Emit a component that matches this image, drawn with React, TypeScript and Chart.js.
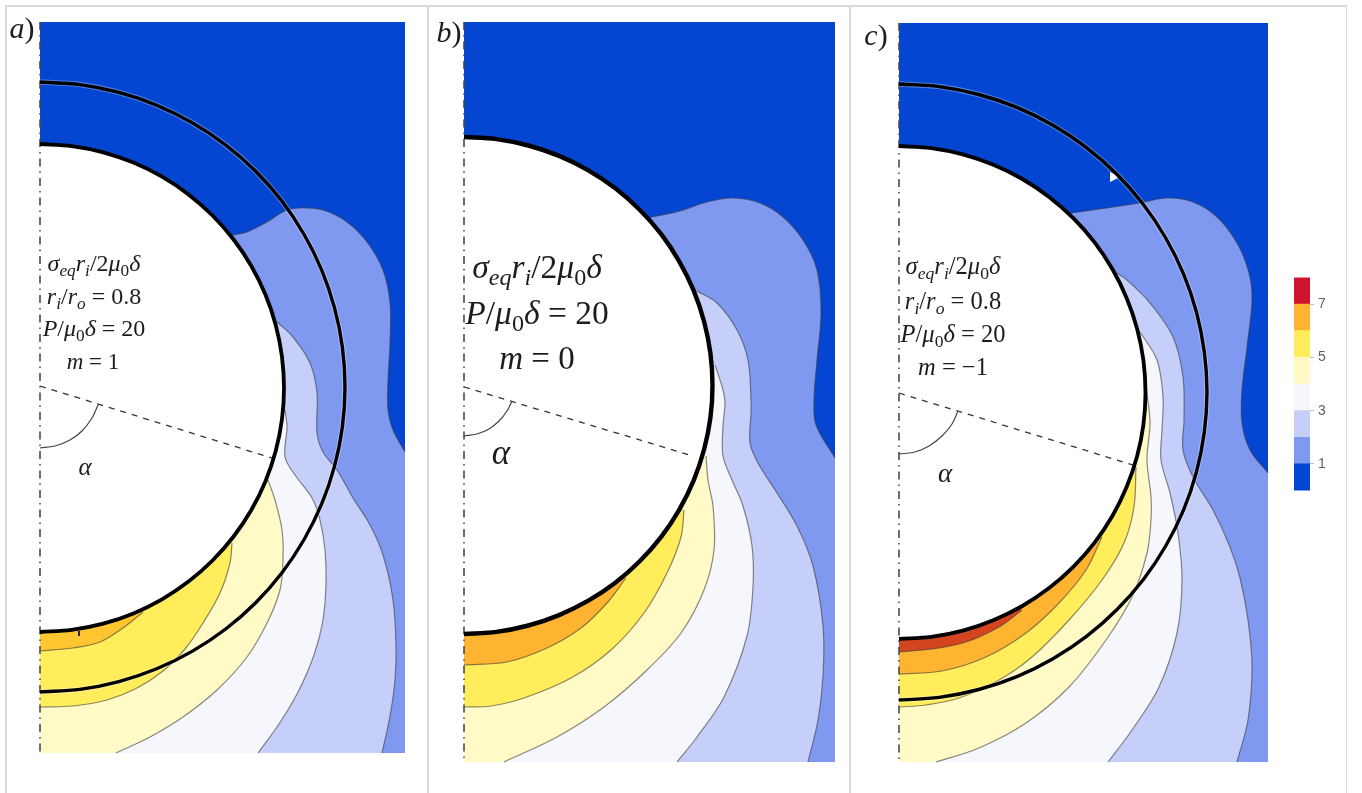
import React, { useEffect, useRef } from "react";
import { Chart, registerables } from "chart.js";

Chart.register(...registerables);

type P = [number, number];

// colour bar
const barLevels = [1, 1, 1, 1, 1, 1, 1, 1];
const barTicks = [1, 3, 5, 7];
const levelColors = ["#0446d1", "#7f99f1", "#c6cffa", "#f6f7fd", "#fffac6", "#ffed5b", "#ffb431", "#d0142c"];

// panel a) m = 1
const aRect: P[] = [[40, 22], [405, 22], [405, 753], [40, 753]];
const aCentre: P = [40, 388];
const aInner: P[] = [[40, 144], [71.8, 146.1], [103.2, 152.3], [133.4, 162.6], [162, 176.7], [188.5, 194.4], [212.5, 215.5], [233.6, 239.5], [251.3, 266], [265.4, 294.6], [275.7, 324.9], [281.9, 356.2], [284, 388], [281.9, 419.8], [275.7, 451.1], [265.4, 481.4], [251.3, 510], [233.6, 536.5], [212.5, 560.5], [188.5, 581.6], [162, 599.3], [133.4, 613.4], [103.2, 623.7], [71.8, 629.9], [40, 632]];
const aOuter: P[] = [[40, 82], [79.8, 84.6], [118.9, 92.4], [156.7, 105.2], [192.5, 122.9], [225.7, 145], [255.7, 171.3], [282, 201.3], [304.1, 234.5], [321.8, 270.3], [334.6, 308.1], [342.4, 347.2], [345, 387], [342.4, 426.8], [334.6, 465.9], [321.8, 503.7], [304.1, 539.5], [282, 572.7], [255.7, 602.7], [225.7, 629], [192.5, 651.1], [156.7, 668.8], [118.9, 681.6], [79.8, 689.4], [40, 692]];
const aL2: P[] = [[233, 235], [247, 232], [267, 222], [285, 211], [300, 208], [323, 210], [347, 222], [367, 242], [383, 270], [390, 303], [390, 343], [388, 380], [388, 410], [393, 430], [405, 452]];
const aL3: P[] = [[277, 322], [293, 337], [310, 363], [317, 393], [317, 433], [323, 452], [337, 470], [353, 498], [370, 525], [383, 555], [393, 600], [396, 646], [395, 680], [390, 716], [382, 753]];
const aL4: P[] = [[285, 410], [287, 427], [285, 457], [295, 475], [312, 498], [320, 520], [325, 550], [326, 583], [323, 620], [314, 655], [298, 692], [279, 724], [258, 753]];
const aL5: P[] = [[268, 480], [275, 500], [282, 530], [283, 560], [280, 590], [267, 623], [247, 657], [217, 690], [183, 717], [150, 737], [116, 753]];
const aL6: P[] = [[232, 543], [230, 563], [220, 593], [203, 623], [185, 649], [163, 671], [137, 688], [107, 700], [73, 706], [40, 707]];
const aL7: P[] = [[143, 612], [123, 628], [100, 642], [73, 648], [40, 651]];
const aDash: P[] = [[40, 386], [272, 458]];
const aArc: P[] = [[40, 448], [55, 446], [70, 440], [82, 431], [92, 418], [98, 405]];
const aNotch: P[] = [[79, 631], [79, 636]];

// panel b) m = 0
const bRect: P[] = [[464, 22], [835, 22], [835, 762], [464, 762]];
const bCentre: P = [464, 386];
const bInner: P[] = [[464, 137], [496.4, 139.1], [528.3, 145.5], [559.1, 155.9], [588.3, 170.3], [615.3, 188.3], [639.7, 209.8], [661.2, 234.2], [679.2, 261.3], [693.6, 290.4], [704, 321.2], [710.4, 353.1], [712.5, 385.5], [710.4, 417.9], [704, 449.8], [693.6, 480.6], [679.2, 509.8], [661.2, 536.8], [639.7, 561.2], [615.3, 582.7], [588.3, 600.7], [559.1, 615.1], [528.3, 625.5], [496.4, 631.9], [464, 634]];
const bL2: P[] = [[652, 217], [680, 211], [707, 202], [733, 198], [760, 203], [783, 217], [803, 240], [817, 270], [821, 313], [817, 360], [814, 400], [816, 425], [835, 458]];
const bL3: P[] = [[697, 291], [717, 303], [737, 330], [748, 360], [751, 400], [751, 413], [750, 443], [758, 463], [777, 493], [797, 526], [813, 566], [823, 626], [823, 676], [818, 720], [808, 762]];
const bL4: P[] = [[715, 365], [723, 390], [725, 403], [723, 426], [723, 456], [732, 480], [743, 506], [752, 546], [753, 586], [747, 636], [724, 697], [697, 737], [677, 762]];
const bL5: P[] = [[706, 456], [708, 480], [713, 506], [714, 550], [704, 590], [681, 633], [647, 670], [604, 707], [557, 737], [504, 762]];
const bL6: P[] = [[684, 510], [681, 537], [667, 573], [644, 613], [611, 650], [571, 678], [524, 698], [491, 706], [464, 707]];
const bL7: P[] = [[626, 578], [607, 603], [581, 628], [547, 648], [507, 662], [464, 665]];
const bDash: P[] = [[464, 387], [693, 456]];
const bArc: P[] = [[464, 436], [477, 434], [489, 429], [499, 421], [507, 411], [512, 401]];

// panel c) m = -1
const cRect: P[] = [[899, 23], [1268, 23], [1268, 762], [899, 762]];
const cCentre: P = [899, 392];
const cInner: P[] = [[899, 146], [931.2, 148.1], [962.8, 154.4], [993.3, 164.8], [1022.3, 179], [1049.1, 196.9], [1073.3, 218.2], [1094.6, 242.4], [1112.5, 269.3], [1126.7, 298.2], [1137.1, 328.7], [1143.4, 360.3], [1145.5, 392.5], [1143.4, 424.7], [1137.1, 456.3], [1126.7, 486.8], [1112.5, 515.8], [1094.6, 542.6], [1073.3, 566.8], [1049.1, 588.1], [1022.3, 606], [993.3, 620.2], [962.8, 630.6], [931.2, 636.9], [899, 639]];
const cOuter: P[] = [[899, 84], [939.2, 86.6], [978.7, 94.5], [1016.9, 107.4], [1053, 125.3], [1086.5, 147.6], [1116.8, 174.2], [1143.4, 204.5], [1165.7, 238], [1183.6, 274.1], [1196.5, 312.3], [1204.3, 351.8], [1207, 392], [1204.3, 432.2], [1196.5, 471.7], [1183.6, 509.9], [1165.7, 546], [1143.4, 579.5], [1116.8, 609.8], [1086.5, 636.4], [1053, 658.7], [1016.9, 676.6], [978.7, 689.5], [939.2, 697.4], [899, 700]];
const cL2: P[] = [[1072, 213], [1107, 208], [1140, 203], [1167, 198], [1193, 202], [1217, 217], [1237, 243], [1249, 273], [1252, 300], [1247, 347], [1242, 390], [1242, 423], [1250, 450], [1268, 473]];
const cL3: P[] = [[1117, 273], [1127, 280], [1150, 303], [1173, 337], [1183, 377], [1184, 420], [1183, 450], [1193, 477], [1213, 510], [1230, 547], [1240, 578], [1248, 620], [1252, 666], [1248, 720], [1237, 762]];
const cL4: P[] = [[1140, 332], [1157, 360], [1163, 397], [1162, 430], [1161, 460], [1170, 493], [1178, 533], [1182, 580], [1177, 633], [1159, 687], [1132, 730], [1108, 762]];
const cL5: P[] = [[1147, 393], [1150, 423], [1147, 460], [1151, 497], [1151, 520], [1147, 553], [1132, 597], [1106, 640], [1069, 687], [1026, 723], [979, 748], [936, 762]];
const cL6: P[] = [[1136, 467], [1134, 507], [1124, 543], [1102, 580], [1069, 620], [1032, 657], [999, 680], [959, 698], [926, 705], [899, 707]];
const cL7: P[] = [[1102, 537], [1086, 570], [1059, 603], [1026, 633], [986, 657], [942, 671], [899, 674]];
const cL8: P[] = [[1022, 610], [999, 627], [966, 642], [932, 649], [899, 652]];
const cDash: P[] = [[899, 393], [1133, 465]];
const cArc: P[] = [[899, 454], [915, 452], [929, 446], [942, 436], [952, 424], [958, 411]];
const cFleck: P[] = [[1110, 172], [1110, 182], [1120, 177]];

const pts = (a: P[]) => a.map(([x, y]) => ({ x, y }));

function line(data: P[], color: string, width: number, extra: object = {}) {
  return { data: pts(data), borderColor: color, borderWidth: width, backgroundColor: "transparent", fill: false, tension: 0.34, ...extra };
}

function region(contour: P[], closure: P[], color: string) {
  const first = contour[0];
  const last = contour[contour.length - 1];
  const doubled: P[] = [];
  closure.forEach((p) => doubled.push(p, p));
  const shape: P[] = [...contour, last, ...doubled, first];
  return { data: pts(shape), backgroundColor: color, borderWidth: 0, borderColor: "transparent", fill: "shape", tension: 0.34 };
}

interface PanelCfg {
  rect: P[];
  centre: P;
  inner: P[];
  outer?: P[];
  levels: P[][];
  dash: P[];
  arc: P[];
  orange: string;
  innerWidth: number;
  red?: string;
  extra?: any[];
  box: [number, number, number, number];
}

const CONTOUR = "rgba(60,60,60,0.6)";

function buildDatasets(c: PanelCfg) {
  const topRight = c.rect[1];
  const bottomRight = c.rect[2];
  const bottomLeft = c.rect[3];
  const ds: any[] = [];
  ds.push({ data: pts(c.rect), backgroundColor: levelColors[0], borderWidth: 0, fill: "shape", tension: 0 });
  c.levels.forEach((contour, i) => {
    const last = contour[contour.length - 1];
    const closure: P[] = [];
    if (last[0] === topRight[0]) closure.push(bottomRight, bottomLeft);
    else if (last[1] === bottomLeft[1]) closure.push(bottomLeft);
    closure.push(c.centre);
    let color = levelColors[i + 1];
    if (i === 5) color = c.orange;
    if (i === 6 && c.red) color = c.red;
    ds.push(region(contour, closure, color));
    ds.push(line(contour, CONTOUR, 1.2));
  });
  ds.push({ data: pts(c.inner), backgroundColor: "#ffffff", borderWidth: 0, fill: "shape", tension: 0.34 });
  ds.push(line(c.dash, "#333333", 1.3, { borderDash: [6, 6], tension: 0 }));
  ds.push(line(c.arc, "#444444", 1.2));
  ds.push(line([c.rect[0], c.rect[3]], "#4a4a4a", 1.6, { borderDash: [8, 5, 1.5, 5], tension: 0 }));
  (c.extra || []).forEach((e) => ds.push(e));
  if (c.outer) {
    ds.push(line(c.outer, "rgba(255,255,255,0.3)", 5.5));
    ds.push(line(c.outer, "#000000", 3.4));
  }
  ds.push(line(c.inner, "#000000", c.innerWidth));
  // lower index is painted last in Chart.js: keep the painter's order explicit
  ds.forEach((d, i) => { d.order = ds.length - i; d.pointRadius = 0; d.pointHoverRadius = 0; });
  return ds;
}

const panelA: PanelCfg = {
  rect: aRect, centre: aCentre, inner: aInner, outer: aOuter,
  levels: [aL2, aL3, aL4, aL5, aL6, aL7], dash: aDash, arc: aArc,
  orange: "#ffc62f", innerWidth: 3.8, box: [6, 427, 6, 793],
  extra: [line(aNotch, "#222222", 2, { tension: 0 })],
};
const panelB: PanelCfg = {
  rect: bRect, centre: bCentre, inner: bInner,
  levels: [bL2, bL3, bL4, bL5, bL6, bL7], dash: bDash, arc: bArc,
  orange: "#ffb431", innerWidth: 4.4, box: [429, 849, 6, 793],
};
const panelC: PanelCfg = {
  rect: cRect, centre: cCentre, inner: cInner, outer: cOuter,
  levels: [cL2, cL3, cL4, cL5, cL6, cL7, cL8], dash: cDash, arc: cArc,
  orange: "#ffb431", red: "#d4451f", innerWidth: 3.8, box: [851, 1270, 6, 793],
  extra: [{ data: pts(cFleck), backgroundColor: "#ffffff", borderWidth: 0, fill: "shape", tension: 0 }],
};

function Panel({ cfg }: { cfg: PanelCfg }) {
  const ref = useRef<HTMLCanvasElement>(null);
  const [x0, x1, y0, y1] = cfg.box;
  useEffect(() => {
    const chart = new Chart(ref.current!, {
      type: "line",
      data: { datasets: buildDatasets(cfg) },
      options: {
        animation: false,
        responsive: false,
        devicePixelRatio: 1,
        layout: { padding: 0 },
        events: [],
        plugins: { legend: { display: false }, tooltip: { enabled: false } },
        scales: {
          x: { type: "linear", min: x0, max: x1, display: false },
          y: { type: "linear", min: y0, max: y1, reverse: true, display: false },
        },
      },
    } as any);
    return () => chart.destroy();
  }, []);
  return <canvas ref={ref} width={x1 - x0} height={y1 - y0} style={{ position: "absolute", left: x0, top: y0, display: "block" }} />;
}

function ColorBar() {
  const ref = useRef<HTMLCanvasElement>(null);
  useEffect(() => {
    const chart = new Chart(ref.current!, {
      type: "bar",
      data: {
        labels: [""],
        datasets: barLevels.map((v, i) => ({ data: [v], backgroundColor: levelColors[i], barPercentage: 1, categoryPercentage: 1, borderWidth: 0 })),
      },
      options: {
        animation: false,
        responsive: false,
        devicePixelRatio: 1,
        events: [],
        layout: { padding: { left: 14, top: 2, bottom: 2, right: 0 } },
        plugins: { legend: { display: false }, tooltip: { enabled: false } },
        scales: {
          x: { stacked: true, display: false },
          y: {
            stacked: true, min: 0, max: 8, position: "right",
            afterBuildTicks: (axis: any) => { axis.ticks = barTicks.map((value) => ({ value })); },
            afterFit: (axis: any) => { axis.width = 35; },
            ticks: { color: "#5f5f5f", font: { size: 14, family: "Liberation Sans" }, padding: 4, autoSkip: false },
            grid: { drawOnChartArea: false, tickLength: 4, color: "#bbbbbb" },
            border: { display: false },
          },
        },
      },
    } as any);
    return () => chart.destroy();
  }, []);
  return <canvas ref={ref} width={65} height={238} style={{ position: "absolute", left: 1280, top: 265, display: "block" }} />;
}

const Sub = ({ children }: { children: React.ReactNode }) => (
  <span style={{ fontSize: "0.72em", verticalAlign: "-0.28em", lineHeight: 0 }}>{children}</span>
);

function Label({ x, y, size, children }: { x: number; y: number; size: number; children: React.ReactNode }) {
  return (
    <div style={{ position: "absolute", left: x, top: y, transform: "translate(-50%,-50%)", fontFamily: "'Liberation Serif', serif", fontSize: size, lineHeight: 1, whiteSpace: "nowrap", color: "#1c1c1c" }}>
      {children}
    </div>
  );
}

const Sigma = () => (<><i>σ<Sub>eq</Sub>r<Sub>i</Sub></i>/2<i>μ</i><Sub>0</Sub><i>δ</i></>);
const Ratio = () => (<><i>r<Sub>i</Sub></i>/<i>r<Sub>o</Sub></i> = 0.8</>);
const Press = () => (<><i>P</i>/<i>μ</i><Sub>0</Sub><i>δ</i> = 20</>);

function Rule({ l, t, w, h }: { l: number; t: number; w: number; h: number }) {
  return <div style={{ position: "absolute", left: l, top: t, width: w, height: h, background: "#dadada" }} />;
}

export default function App() {
  return (
    <div style={{ position: "fixed", left: 0, top: 0, width: 1362, height: 793, overflow: "hidden", background: "#ffffff" }}>
      <Rule l={5} t={5} w={1342} h={1.5} />
      <Rule l={5} t={5} w={1.5} h={788} />
      <Rule l={427} t={5} w={1.5} h={788} />
      <Rule l={849} t={5} w={1.5} h={788} />
      <Rule l={1345.5} t={5} w={1.5} h={788} />
      <Panel cfg={panelA} />
      <Panel cfg={panelB} />
      <Panel cfg={panelC} />
      <ColorBar />

      <Label x={22} y={28} size={30}><i>a</i>)</Label>
      <Label x={449} y={32} size={30}><i>b</i>)</Label>
      <Label x={876} y={35} size={30}><i>c</i>)</Label>

      <Label x={94} y={263} size={24}><Sigma /></Label>
      <Label x={94} y={296} size={24}><Ratio /></Label>
      <Label x={94} y={328} size={24}><Press /></Label>
      <Label x={93} y={361} size={23}><i>m</i> = 1</Label>
      <Label x={85} y={466} size={25}><i>α</i></Label>

      <Label x={537} y={267} size={33.5}><Sigma /></Label>
      <Label x={537} y={313} size={33.5}><Press /></Label>
      <Label x={537} y={358} size={33}><i>m</i> = 0</Label>
      <Label x={501} y={452} size={35}><i>α</i></Label>

      <Label x={953} y={266} size={24.5}><Sigma /></Label>
      <Label x={953} y={301} size={24.5}><Ratio /></Label>
      <Label x={953} y={334} size={24.5}><Press /></Label>
      <Label x={953} y={367} size={24.5}><i>m</i> = −1</Label>
      <Label x={945} y={473} size={27}><i>α</i></Label>
    </div>
  );
}
